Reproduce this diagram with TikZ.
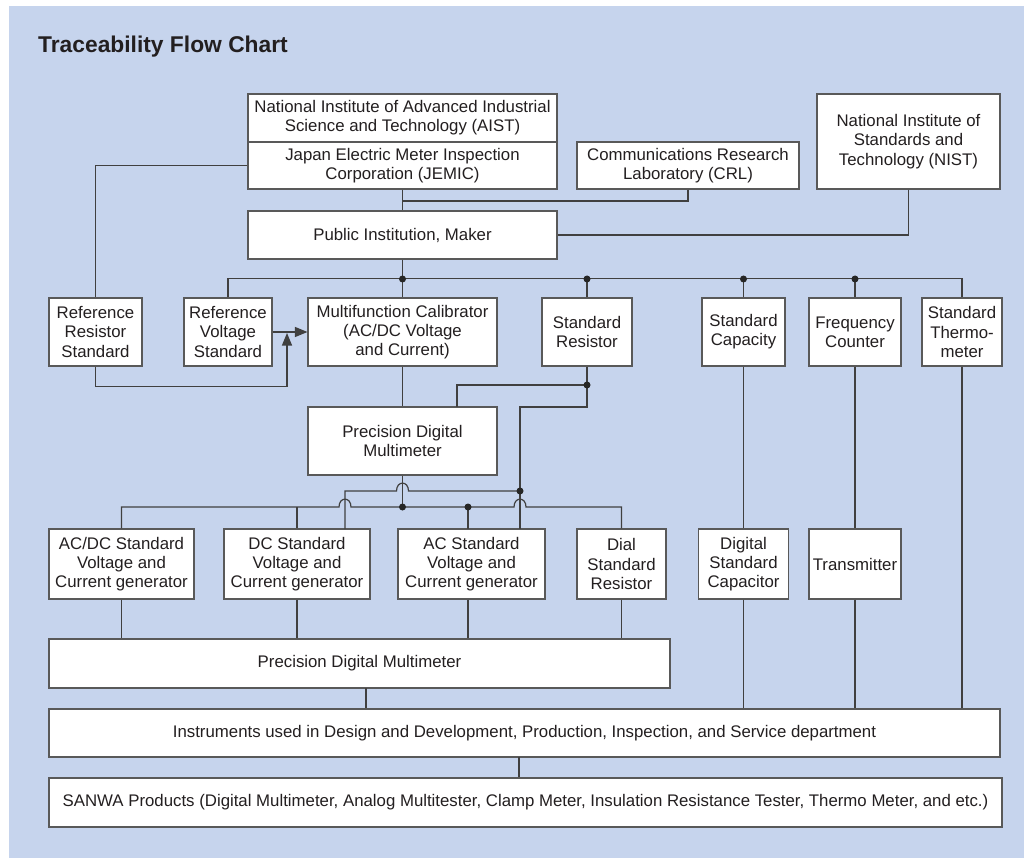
\documentclass[tikz,border=0pt]{standalone}
\usepackage{fontspec}
\setmainfont{Liberation Sans}
\usetikzlibrary{arrows.meta}
\definecolor{bgblue}{RGB}{198,212,237}
\definecolor{ink}{RGB}{35,31,32}
\begin{document}
\begin{tikzpicture}[x=1pt,y=-1pt,
 box/.style={draw=black!65, line width=1.1pt, fill=white, align=center, inner sep=2pt, text=ink, font=\fontsize{16.8}{19.2}\selectfont},
 conn/.style={draw=black!75, line width=1.2pt},
 jdot/.style={circle, fill=black!85, inner sep=0pt, minimum size=7pt},
 arr/.style={-{Triangle[length=12.5pt,width=10pt]}}]
\useasboundingbox (0,0) rectangle (1024,858);
\fill[white] (0,0) rectangle (1024,858);
\fill[bgblue] (9,6) rectangle (1024,858);

\node[anchor=west, font=\bfseries\fontsize{22.8}{27}\selectfont, text=ink, inner sep=0pt] (title) at (38,47) {Traceability Flow Chart};

% top level
\node[box, minimum width=309pt, minimum height=48pt] (aist) at (402.5,118) {National Institute of Advanced Industrial\\Science and Technology (AIST)};
\node[box, minimum width=309pt, minimum height=47pt] (jemic) at (402.5,165.5) {Japan Electric Meter Inspection\\Corporation (JEMIC)};
\node[box, minimum width=222pt, minimum height=47pt] (crl) at (688,165.5) {Communications Research\\Laboratory (CRL)};
\node[box, minimum width=183pt, minimum height=95pt] (nist) at (908.5,141.5) {National Institute of\\Standards and\\Technology (NIST)};
\node[box, minimum width=309pt, minimum height=48pt] (public) at (402.5,235) {Public Institution, Maker};

% row 2
\node[box, minimum width=93pt, minimum height=68pt] (refres) at (95.5,332) {Reference\\Resistor\\Standard};
\node[box, minimum width=88pt, minimum height=68pt] (refvolt) at (228,332) {Reference\\Voltage\\Standard};
\node[box, minimum width=189pt, minimum height=68pt] (mc) at (402.5,332) {Multifunction Calibrator\\(AC/DC Voltage\\and Current)};
\node[box, minimum width=90pt, minimum height=68pt] (sr) at (587,332) {Standard\\Resistor};
\node[box, minimum width=83pt, minimum height=68pt] (sc) at (743.5,332) {Standard\\Capacity};
\node[box, minimum width=92pt, minimum height=68pt] (fc) at (855,332) {Frequency\\Counter};
\node[box, minimum width=80pt, minimum height=68pt] (st) at (962,332) {Standard\\Thermo-\\meter};

\node[box, minimum width=189pt, minimum height=68pt] (pdm1) at (402.5,441) {Precision Digital\\Multimeter};

% row 3
\node[box, minimum width=145pt, minimum height=70pt] (acdc) at (121.5,564) {AC/DC Standard\\Voltage and\\Current generator};
\node[box, minimum width=146pt, minimum height=70pt] (dc) at (297,564) {DC Standard\\Voltage and\\Current generator};
\node[box, minimum width=147pt, minimum height=70pt] (ac) at (471.5,564) {AC Standard\\Voltage and\\Current generator};
\node[box, minimum width=89pt, minimum height=70pt] (dial) at (621.5,564) {Dial\\Standard\\Resistor};
\node[box, minimum width=90pt, minimum height=70pt] (dsc) at (743.5,564) {Digital\\Standard\\Capacitor};
\node[box, minimum width=92pt, minimum height=70pt] (trans) at (855,564) {Transmitter};

\node[box, minimum width=621pt, minimum height=49pt] (pdm2) at (359.5,663.5) {Precision Digital Multimeter};
\node[box, minimum width=951pt, minimum height=48pt] (instr) at (524.5,733) {Instruments used in Design and Development, Production, Inspection, and Service department};
\node[box, minimum width=953pt, minimum height=49pt] (sanwa) at (525.5,802.5) {SANWA Products (Digital Multimeter, Analog Multitester, Clamp Meter, Insulation Resistance Tester, Thermo Meter, and etc.)};

% named points
\coordinate (jc) at (402.5,201);
\coordinate (rr) at (287,333);
\coordinate (srd) at (587,385);
\coordinate (p1t) at (457,407);
\coordinate (acr) at (520,529);
\coordinate (dcr) at (345,529);
\coordinate (acl) at (468,529);
\coordinate (p2o) at (366,688);
\coordinate (io) at (519,757);

% connectors, top
\draw[conn] (jemic.south) -- (public.north);
\draw[conn] (crl.south) |- (jc);
\draw[conn] (nist.south) |- (public.east);
\draw[conn] (jemic.west) -| (refres.north);
\draw[conn] (public.south) -- (mc.north);
\draw[conn] (refvolt.north) -- ++(0,-19) -| (st.north);
\draw[conn] (sr.north) -- ++(0,-19);
\draw[conn] (sc.north) -- ++(0,-19);
\draw[conn] (fc.north) -- ++(0,-19);
\node[jdot] (d1) at (402.5,279) {};
\node[jdot] (d2) at (587,279) {};
\node[jdot] (d3) at (743.5,279) {};
\node[jdot] (d4) at (855,279) {};

% arrows
\draw[conn, arr] (refvolt.east) -- (mc.west);
\draw[conn, arr] (refres.south) -- ++(0,20) -| (rr);

% middle
\draw[conn] (mc.south) -- (pdm1.north);
\draw[conn] (sr.south) -- (srd);
\draw[conn] (srd) -| (p1t);
\draw[conn] (srd) -- ++(0,22) -| (acr);
\node[jdot] (d5) at (srd) {};

\draw[conn] (dcr) -- (345,491) -- (396.5,491) .. controls (396.5,480.5) and (408.5,480.5) .. (408.5,491) -- (520,491);
\draw[conn] (acdc.north) -- (121.5,507) -- (339,507) .. controls (339,496.5) and (351,496.5) .. (351,507) -- (514,507) .. controls (514,496.5) and (526,496.5) .. (526,507) -- (621.5,507) -- (dial.north);
\draw[conn] (pdm1.south) -- (402.5,507);
\draw[conn] (297,507) -- (dc.north);
\draw[conn] (468,507) -- (acl);
\node[jdot] (d6) at (402.5,507) {};
\node[jdot] (d7) at (468,507) {};
\node[jdot] (d8) at (520,491) {};

% row 3 down
\draw[conn] (acdc.south) -- (acdc.south |- pdm2.north);
\draw[conn] (dc.south) -- (dc.south |- pdm2.north);
\draw[conn] (acl |- ac.south) -- (acl |- pdm2.north);
\draw[conn] (dial.south) -- (dial.south |- pdm2.north);
\draw[conn] (p2o) -- (p2o |- instr.north);
\draw[conn] (sc.south) -- (dsc.north);
\draw[conn] (fc.south) -- (trans.north);
\draw[conn] (dsc.south) -- (dsc.south |- instr.north);
\draw[conn] (trans.south) -- (trans.south |- instr.north);
\draw[conn] (st.south) -- (st.south |- instr.north);
\draw[conn] (io) -- (io |- sanwa.north);
\end{tikzpicture}
\end{document}
